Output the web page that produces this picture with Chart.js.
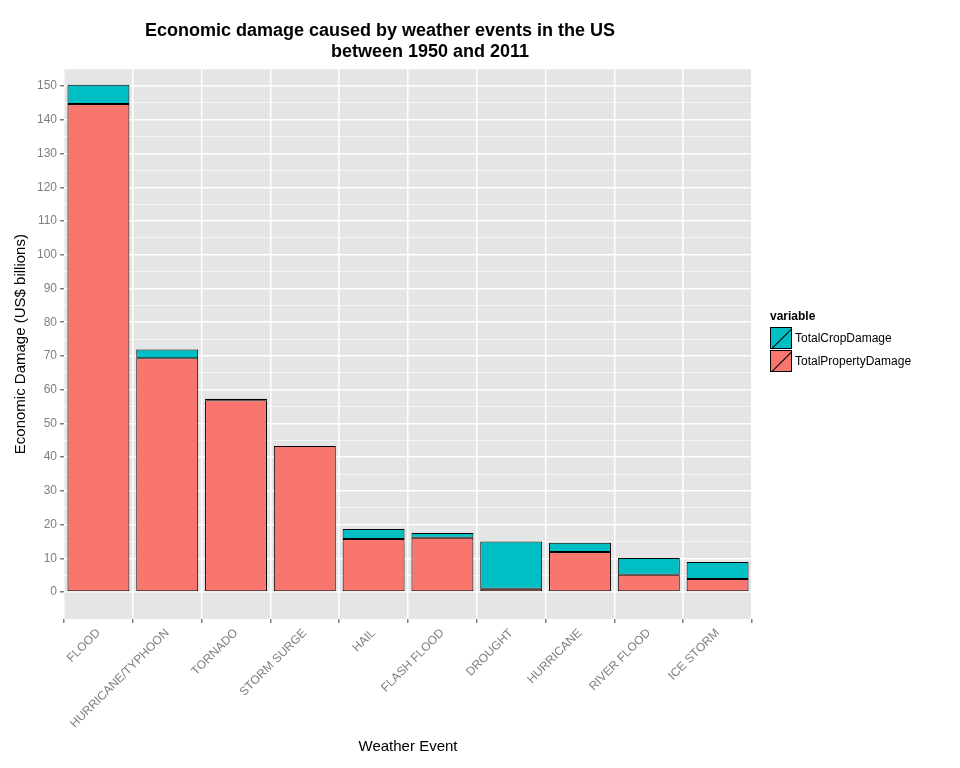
<!DOCTYPE html>
<html><head><meta charset="utf-8">
<script src="https://cdn.jsdelivr.net/npm/chart.js@4"></script>
<style>
body{margin:0;background:#fff;font-family:Arial,"Liberation Sans",sans-serif}
#wrap{position:relative;width:960px;height:768px}
#legend{position:absolute;left:770px;top:309px;font-size:12px}
.row{display:flex;align-items:center;height:23px}
.key{width:22px;height:22px;border:1px solid #000;box-sizing:border-box;margin-right:3px;position:relative;overflow:hidden}
.key::after{content:"";position:absolute;left:-4px;top:10px;width:30px;height:1px;background:#000;transform:rotate(-45deg)}
</style></head><body>
<div id="wrap"><canvas id="chart" width="960" height="768"></canvas>
<div id="legend"><div style="font-weight:bold;margin-bottom:3px">variable</div>
<div class="row"><div class="key" style="background:#00BFC4"></div>TotalCropDamage</div>
<div class="row"><div class="key" style="background:#F8766D"></div>TotalPropertyDamage</div></div></div>
<script>
// イベント名と被害額（十億ドル）
const events = ['FLOOD','HURRICANE/TYPHOON','TORNADO','STORM SURGE','HAIL','FLASH FLOOD','DROUGHT','HURRICANE','RIVER FLOOD','ICE STORM'];
const propertyDamage = [144.7, 69.3, 56.9, 43.3, 15.7, 16.1, 1.0, 11.9, 5.1, 3.9];
const cropDamage = [5.7, 2.6, 0.4, 0.0, 3.0, 1.4, 14.0, 2.7, 5.0, 5.0];

new Chart(document.getElementById('chart'), {
  type: 'bar',
  data: {
    labels: events,
    datasets: [
      {label: 'TotalPropertyDamage', data: propertyDamage, backgroundColor: '#F8766D', borderColor: '#000', borderWidth: 1, borderSkipped: false},
      {label: 'TotalCropDamage', data: cropDamage, backgroundColor: '#00BFC4', borderColor: '#000', borderWidth: 1, borderSkipped: false}
    ]
  },
  plugins: [{
    // 灰色の背景
    beforeDraw: (c) => {
      const a = c.chartArea;
      c.ctx.fillStyle = '#E5E5E5';
      c.ctx.fillRect(a.left, a.top, a.right - a.left, a.bottom - a.top);
    }
  }],
  options: {
    responsive: false,
    animation: false,
    layout: {padding: {left: 8, right: 208, top: 8, bottom: 8}},
    datasets: {bar: {barPercentage: 0.9, categoryPercentage: 1}},
    plugins: {
      legend: {display: false},
      title: {display: true, text: ['Economic damage caused by weather events in the US', '                    between 1950 and 2011'],
        color: '#000', font: {size: 18, weight: 'bold'}, padding: {top: 12, bottom: 6}}
    },
    scales: {
      x: {
        stacked: true,
        grid: {color: '#fff', lineWidth: 1.5, drawTicks: true, tickColor: '#7f7f7f', tickLength: 4},
        border: {display: false},
        ticks: {maxRotation: 45, minRotation: 45, color: '#7f7f7f', font: {size: 12}},
        title: {display: true, text: 'Weather Event', color: '#000', font: {size: 15}}
      },
      y: {
        stacked: true, min: -8, max: 155,
        afterBuildTicks: (axis) => {
          const t = [];
          for (let v = 0; v <= 150; v += 5) t.push({value: v});
          axis.ticks = t;
        },
        grid: {color: '#fff', lineWidth: (ctx) => (ctx.tick && ctx.tick.value % 10 === 0) ? 1.5 : 0.6,
          tickColor: (ctx) => (ctx.tick && ctx.tick.value % 10 === 0) ? '#7f7f7f' : 'rgba(0,0,0,0)', tickLength: 4},
        border: {display: false},
        ticks: {color: '#7f7f7f', font: {size: 12}, autoSkip: false,
          callback: (v) => v % 10 === 0 ? v : ''},
        title: {display: true, text: 'Economic Damage (US$ billions)', color: '#000', font: {size: 15}}
      }
    }
  }
});
</script></body></html>
